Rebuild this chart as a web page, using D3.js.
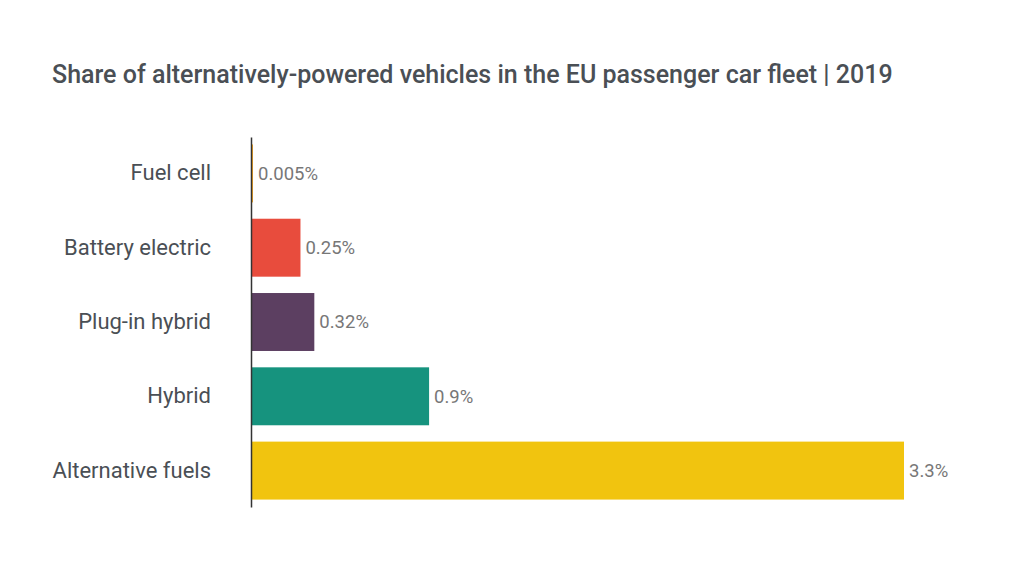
<!DOCTYPE html>
<html lang="en">
<head>
<meta charset="UTF-8">
<title>Alternatively-powered vehicles</title>
<script src="https://d3js.org/d3.v7.min.js"></script>
<style>
  body { margin: 0; background: #fff; font-family: Roboto, sans-serif; }
</style>
</head>
<body>
<div id="chart"></div>
<script>
const categories = ["Fuel cell", "Battery electric", "Plug-in hybrid", "Hybrid", "Alternative fuels"];
const values = [0.005, 0.25, 0.32, 0.9, 3.3];
const valueLabels = ["0.005%", "0.25%", "0.32%", "0.9%", "3.3%"];
const colors = ["#f5a623", "#e84c3d", "#5c3f61", "#16937e", "#f1c40f"];

const width = 1024, height = 576;
const svg = d3.select("#chart").append("svg")
  .attr("width", width).attr("height", height);

svg.append("text")
  .attr("x", 52).attr("y", 83)
  .attr("font-size", 25).attr("font-weight", 500)
  .attr("fill", "#4a4f55")
  .text("Share of alternatively-powered vehicles in the EU passenger car fleet | 2019");

const x = d3.scaleLinear().domain([0, 3.3]).range([251, 904]);
const y = d3.scaleBand().domain(categories).range([137, 507])
  .paddingInner(0.22).paddingOuter(0.1);

svg.selectAll(".bar").data(values).enter().append("rect")
  .attr("x", x(0))
  .attr("y", (d, i) => y(categories[i]))
  .attr("width", d => Math.max(2, x(d) - x(0)))
  .attr("height", y.bandwidth())
  .attr("fill", (d, i) => colors[i]);

svg.selectAll(".val").data(values).enter().append("text")
  .attr("x", d => Math.max(x(d), x(0) + 2) + 5)
  .attr("y", (d, i) => y(categories[i]) + y.bandwidth() / 2)
  .attr("dy", "0.35em")
  .attr("font-size", 18.5).attr("fill", "#777")
  .text((d, i) => valueLabels[i]);

const axis = svg.append("g")
  .attr("transform", "translate(" + x(0) + ",0)")
  .call(d3.axisLeft(y).tickSize(0).tickPadding(40));
axis.select(".domain").attr("stroke", "#333").attr("stroke-width", 1.5);
axis.selectAll("text").attr("font-size", 22).attr("fill", "#4a4f55")
  .attr("font-family", "Roboto, sans-serif");
</script>
</body>
</html>
